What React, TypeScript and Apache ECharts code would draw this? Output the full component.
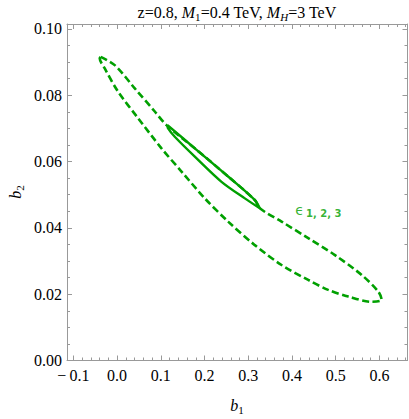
import React, { useEffect, useRef } from 'react';
import * as echarts from 'echarts';

// Axis ranges and ticks
const xMin = -0.1144;
const xMax = 0.6641;
const yMin = 0;
const yMax = 0.1015;
const xTicks = [-0.1, 0, 0.1, 0.2, 0.3, 0.4, 0.5, 0.6];
const xTickLabels = ['\u2212\u20090.1', '0.0', '0.1', '0.2', '0.3', '0.4', '0.5', '0.6'];
const yTicks = [0, 0.02, 0.04, 0.06, 0.08, 0.1];
const yTickLabels = ['0.00', '0.02', '0.04', '0.06', '0.08', '0.10'];
const xMinorStep = 0.02;
const yMinorStep = 0.005;

// Dashed contour (b1, b2)
const dashedB1 = [
  -0.0373, -0.0053, 0.0405, 0.0863, 0.113, 0.1778, 0.254, 0.3151, 0.3265, 0.3762,
  0.4371, 0.4982, 0.5593, 0.5973, 0.605, 0.5822, 0.5286, 0.4828, 0.4371, 0.3762,
  0.3151, 0.254, 0.2007, 0.1474, 0.1016, 0.0481, 0.0023, -0.0281, -0.0396, -0.0373,
];
const dashedB2 = [
  0.0916, 0.0891, 0.0821, 0.0751, 0.071, 0.064, 0.0555, 0.0484, 0.0459, 0.0419,
  0.0369, 0.0318, 0.0258, 0.0208, 0.0183, 0.0177, 0.0193, 0.0213, 0.0243, 0.0288,
  0.0348, 0.0419, 0.0489, 0.057, 0.064, 0.0731, 0.0811, 0.0881, 0.0912, 0.0916,
];

// Solid contour (b1, b2)
const solidB1 = [0.1153, 0.1778, 0.254, 0.3151, 0.3265, 0.2922, 0.2389, 0.1778, 0.132, 0.1167, 0.1153];
const solidB2 = [0.071, 0.064, 0.0555, 0.0484, 0.0459, 0.0489, 0.0539, 0.0615, 0.0675, 0.07, 0.071];

// Annotation
const labelB1 = [0.4066];
const labelB2 = [0.0454];

const GREEN = '#00a000';
const FRAME = '#999999';
const SERIF = 'Liberation Serif';

function range(from: number, to: number, step: number, skip: number[]) {
  const out: number[] = [];
  const n = Math.round((to - from) / step);
  for (let i = 0; i <= n; i++) {
    const v = +(from + i * step).toFixed(6);
    if (!skip.some((s) => Math.abs(s - v) < 1e-9)) out.push(v);
  }
  return out;
}

const xMinor = range(-0.1, 0.66, xMinorStep, xTicks);
const yMinor = range(0, 0.1, yMinorStep, yTicks);

function pick(ticks: number[], labels: string[], v: number) {
  const i = ticks.findIndex((t) => Math.abs(t - v) < 1e-9);
  return i >= 0 ? labels[i] : '';
}

const tickRich = { t: { fontFamily: SERIF, fontSize: 16, color: '#000' } };

function axis(dim: 'x' | 'y', position: string, values: number[], len: number, line: boolean, labels: boolean) {
  const isX = dim === 'x';
  return {
    type: 'value',
    position,
    min: isX ? xMin : yMin,
    max: isX ? xMax : yMax,
    splitLine: { show: false },
    axisLine: { show: line, onZero: false, lineStyle: { color: FRAME, width: 1 } },
    axisTick: { show: true, inside: true, length: len, customValues: values, lineStyle: { color: FRAME, width: 1 } },
    axisLabel: labels
      ? {
          show: true,
          customValues: values,
          color: '#000',
          fontFamily: SERIF,
          fontSize: 16,
          margin: isX ? 7 : 5,
          rich: tickRich,
          formatter: (v: number) => '{t|' + (isX ? pick(xTicks, xTickLabels, v) : pick(yTicks, yTickLabels, v)) + '}',
        }
      : { show: false },
  };
}

const richMain = { fontFamily: SERIF, fontSize: 16, lineHeight: 20, color: '#000' };
const richIt = { fontFamily: SERIF, fontSize: 16, lineHeight: 20, fontStyle: 'italic', color: '#000' };
const richSub = { fontFamily: SERIF, fontSize: 11, lineHeight: 12, verticalAlign: 'bottom', color: '#000' };
const richSubIt = { ...richSub, fontStyle: 'italic' };

const option = {
  animation: false,
  backgroundColor: '#fff',
  grid: { left: 67, top: 24, right: 1.5, bottom: 58.5, containLabel: false },
  xAxis: [
    axis('x', 'bottom', xTicks, 5, true, true),
    axis('x', 'bottom', xMinor, 3, false, false),
    axis('x', 'top', xTicks, 5, true, false),
    axis('x', 'top', xMinor, 3, false, false),
  ],
  yAxis: [
    axis('y', 'left', yTicks, 5, true, true),
    axis('y', 'left', yMinor, 3, false, false),
    axis('y', 'right', yTicks, 5, true, false),
    axis('y', 'right', yMinor, 3, false, false),
  ],
  graphic: [
    {
      type: 'text',
      x: 237,
      y: 12,
      style: {
        text: '{n|z=0.8, }{i|M}{s|1}{n|=0.4 TeV, }{i|M}{si|H}{n|=3 TeV}',
        align: 'center',
        verticalAlign: 'middle',
        rich: { n: richMain, i: richIt, s: richSub, si: richSubIt },
      },
    },
    {
      type: 'text',
      x: 237,
      y: 405,
      style: {
        text: '{i|b}{s|1}',
        align: 'center',
        verticalAlign: 'middle',
        rich: { i: richIt, s: richSub },
      },
    },
    {
      type: 'text',
      x: 15,
      y: 192,
      rotation: Math.PI / 2,
      style: {
        text: '{i|b}{s|2}',
        align: 'center',
        verticalAlign: 'middle',
        rich: { i: richIt, s: richSub },
      },
    },
  ],
  series: [
    {
      type: 'line',
      xAxisIndex: 0,
      yAxisIndex: 0,
      data: dashedB1.map((x, i) => [x, dashedB2[i]]),
      symbol: 'none',
      smooth: 0.3,
      lineStyle: { color: GREEN, width: 2.6, type: [7, 3.5] },
      z: 2,
    },
    {
      type: 'line',
      xAxisIndex: 0,
      yAxisIndex: 0,
      data: solidB1.map((x, i) => [x, solidB2[i]]),
      symbol: 'none',
      smooth: 0.3,
      lineStyle: { color: GREEN, width: 2.4 },
      z: 3,
    },
    {
      type: 'scatter',
      xAxisIndex: 0,
      yAxisIndex: 0,
      data: labelB1.map((x, i) => [x, labelB2[i]]),
      symbolSize: 1,
      itemStyle: { color: 'transparent' },
      label: {
        show: true,
        position: 'right',
        distance: 0,
        formatter: '{e|\u03F5}{s|1, 2, 3}',
        rich: {
          e: { fontFamily: 'DejaVu Sans', fontSize: 14, color: GREEN, lineHeight: 18 },
          s: { fontFamily: 'DejaVu Sans', fontSize: 10, fontWeight: 'bold', color: GREEN, lineHeight: 12, verticalAlign: 'bottom', padding: [0, 0, 0, 2] },
        },
      },
      z: 4,
    },
  ],
};

export default function App() {
  const ref = useRef<HTMLDivElement>(null);
  useEffect(() => {
    const chart = echarts.init(ref.current!, null, { renderer: 'svg' });
    chart.setOption(option as any);
    return () => chart.dispose();
  }, []);
  return (
    <div
      ref={ref}
      style={{ position: 'absolute', left: 0, top: 0, width: 409, height: 419, background: '#fff' }}
    />
  );
}
